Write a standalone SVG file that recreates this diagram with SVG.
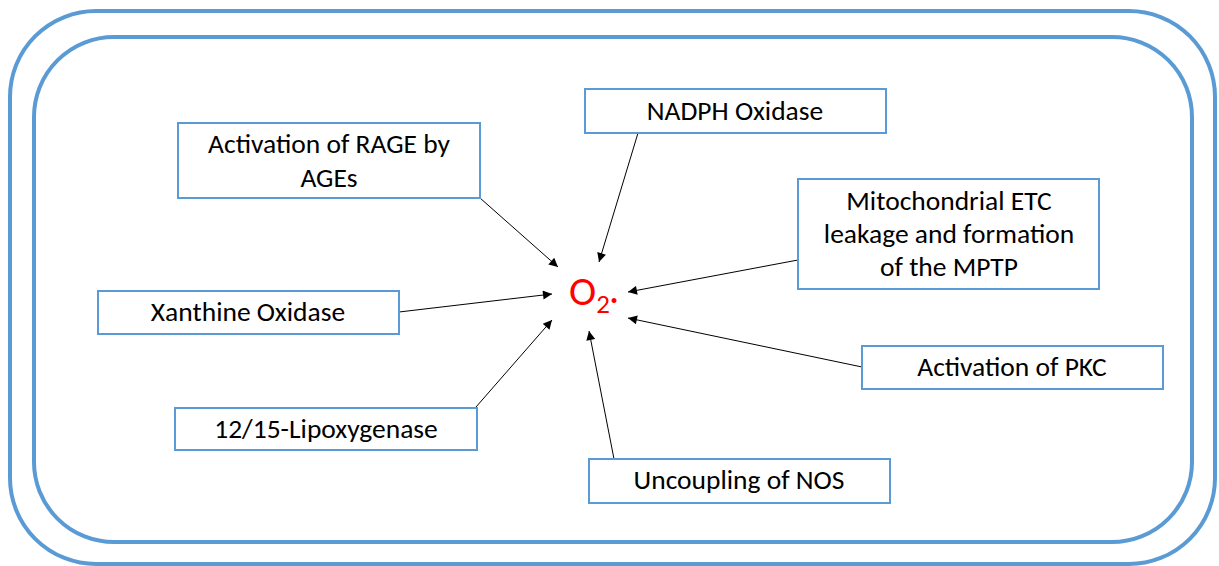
<svg xmlns="http://www.w3.org/2000/svg" width="1219" height="566" viewBox="0 0 1219 566">
<defs>
<style>
.frame{fill:none;stroke:#5b9bd5;stroke-width:4}
.box{fill:#fff;stroke:#5b9bd5;stroke-width:2}
.lbl{font-family:"Carlito","Open Sans","Liberation Sans",sans-serif;font-size:27.5px;fill:#000;text-anchor:middle}
.conn{stroke:#000;stroke-width:1;fill:none;marker-end:url(#ah)}
</style>
<marker id="ah" viewBox="0 0 10 10" refX="10" refY="5" markerWidth="12" markerHeight="9" markerUnits="userSpaceOnUse" orient="auto">
<path d="M0,0 L10,5 L0,10 Z" fill="#000"/>
</marker>
</defs>
<rect width="1219" height="566" fill="#fff"/>
<g id="frame">
<rect class="frame" x="10" y="11" width="1205" height="553" rx="86" ry="86"/>
<rect class="frame" x="34" y="37" width="1158" height="505" rx="80" ry="80"/>
</g>
<g id="connectors">
<line class="conn" x1="480" y1="198" x2="558" y2="267"/>
<line class="conn" x1="638" y1="133" x2="599" y2="262"/>
<line class="conn" x1="798" y1="260" x2="628" y2="292"/>
<line class="conn" x1="399" y1="312" x2="552" y2="294"/>
<line class="conn" x1="476" y1="407" x2="552" y2="320"/>
<line class="conn" x1="614" y1="459" x2="589" y2="331"/>
<line class="conn" x1="862" y1="367" x2="628" y2="318"/>
</g>
<g id="o2">
<text x="569" y="305" font-family="Carlito, Liberation Sans, sans-serif" font-size="41" fill="#ff0000">O<tspan font-size="27" dy="8">2</tspan><tspan font-size="34" dy="-3">·</tspan></text>
</g>
<g id="rage">
<rect class="box" x="178" y="123" width="302" height="75"/>
<text class="lbl" x="329" y="153">Activation of RAGE by</text>
<text class="lbl" x="329" y="187">AGEs</text>
</g>
<g id="nadph">
<rect class="box" x="585" y="89" width="301" height="44"/>
<text class="lbl" x="735" y="120">NADPH Oxidase</text>
</g>
<g id="mito">
<rect class="box" x="798" y="179" width="301" height="110"/>
<text class="lbl" x="949" y="210">Mitochondrial ETC</text>
<text class="lbl" x="949" y="243">leakage and formation</text>
<text class="lbl" x="949" y="276">of the MPTP</text>
</g>
<g id="xanthine">
<rect class="box" x="98" y="291" width="301" height="43"/>
<text class="lbl" x="248" y="321">Xanthine Oxidase</text>
</g>
<g id="pkc">
<rect class="box" x="862" y="346" width="301" height="43"/>
<text class="lbl" x="1012" y="376">Activation of PKC</text>
</g>
<g id="lipox">
<rect class="box" x="175" y="408" width="302" height="42"/>
<text class="lbl" x="326" y="438">12/15-Lipoxygenase</text>
</g>
<g id="nos">
<rect class="box" x="589" y="459" width="301" height="44"/>
<text class="lbl" x="739" y="489">Uncoupling of NOS</text>
</g>
</svg>
